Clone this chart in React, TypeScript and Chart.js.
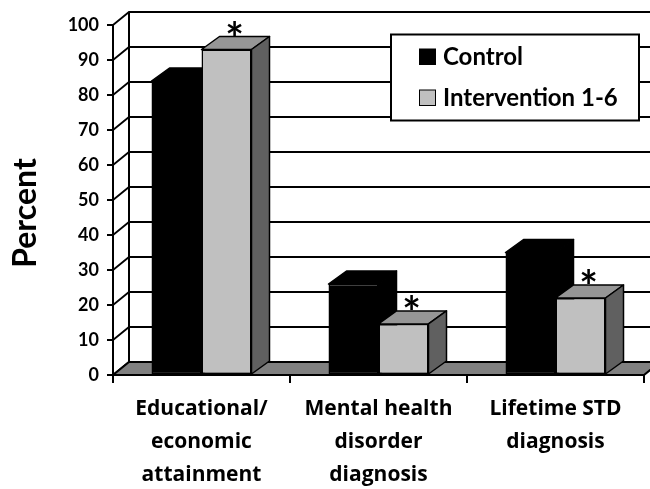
import React, { useEffect, useRef } from 'react';
import { Chart, registerables } from 'chart.js';

Chart.register(...registerables);

// ---- data ----
const categories: string[][] = [
  ['Educational/', 'economic', 'attainment'],
  ['Mental health', 'disorder', 'diagnosis'],
  ['Lifetime STD', 'diagnosis'],
];
const seriesNames = ['Control', 'Intervention 1-6'];
const controlValues = [84, 26, 35];
const interventionValues = [93, 14.6, 22];
const interventionMarks = ['*', '*', '*'];
const yAxisTitle = 'Percent';
const yMin = 0;
const yMax = 100;
const yStep = 10;

// ---- style ----
const FONT = 'Lato';
const LABEL_FONT = '"Open Sans"';
const WALL_DX = 16;
const WALL_DY = 13;
const BAR_DX = 18;
const BAR_DY = 13;
const COLORS = {
  control: '#000000',
  intervention: '#c0c0c0',
  interventionTop: '#969696',
  interventionSide: '#606060',
  floor: '#808080',
};

const threeDPlugin = {
  id: 'threeD',
  beforeDraw(chart: any) {
    const { ctx, chartArea, scales } = chart;
    const { left, right, bottom } = chartArea;
    const y = scales.y;
    const W = chart.width;
    ctx.save();
    ctx.strokeStyle = '#000';
    ctx.lineWidth = 1.8;
    // side wall + back wall gridlines
    for (let v = yMin; v <= yMax; v += yStep) {
      const py = y.getPixelForValue(v);
      ctx.beginPath();
      ctx.moveTo(left, py);
      ctx.lineTo(left + WALL_DX, py - WALL_DY);
      ctx.lineTo(W, py - WALL_DY);
      ctx.stroke();
    }
    // back wall vertical edge
    const topPx = y.getPixelForValue(yMax);
    ctx.lineWidth = 2;
    ctx.beginPath();
    ctx.moveTo(left + WALL_DX, topPx - WALL_DY);
    ctx.lineTo(left + WALL_DX, bottom - WALL_DY);
    ctx.stroke();
    // floor
    ctx.beginPath();
    ctx.moveTo(left, bottom);
    ctx.lineTo(right, bottom);
    ctx.lineTo(right + WALL_DX, bottom - WALL_DY);
    ctx.lineTo(left + WALL_DX, bottom - WALL_DY);
    ctx.closePath();
    ctx.fillStyle = COLORS.floor;
    ctx.fill();
    ctx.lineWidth = 2;
    ctx.stroke();
    ctx.restore();
  },
  beforeDatasetsDraw(chart: any) {
    const { ctx } = chart;
    ctx.save();
    ctx.strokeStyle = '#000';
    ctx.lineWidth = 1.5;
    ctx.lineJoin = 'round';
    chart.data.datasets.forEach((ds: any, di: number) => {
      const meta = chart.getDatasetMeta(di);
      meta.data.forEach((el: any) => {
        const { x, y, base, width } = el.getProps(['x', 'y', 'base', 'width'], true);
        const l = x - width / 2;
        const r = x + width / 2;
        // top face
        ctx.beginPath();
        ctx.moveTo(l, y);
        ctx.lineTo(r, y);
        ctx.lineTo(r + BAR_DX, y - BAR_DY);
        ctx.lineTo(l + BAR_DX, y - BAR_DY);
        ctx.closePath();
        ctx.fillStyle = ds.topColor;
        ctx.fill();
        ctx.stroke();
        // side face
        ctx.beginPath();
        ctx.moveTo(r, y);
        ctx.lineTo(r + BAR_DX, y - BAR_DY);
        ctx.lineTo(r + BAR_DX, base - BAR_DY);
        ctx.lineTo(r, base);
        ctx.closePath();
        ctx.fillStyle = ds.sideColor;
        ctx.fill();
        ctx.stroke();
      });
    });
    ctx.restore();
  },
  afterDraw(chart: any) {
    const { ctx, chartArea } = chart;
    ctx.save();
    // significance marks
    const meta = chart.getDatasetMeta(1);
    ctx.fillStyle = '#000';
    ctx.font = `bold 44px ${FONT}`;
    ctx.textAlign = 'center';
    ctx.textBaseline = 'alphabetic';
    meta.data.forEach((el: any, i: number) => {
      const mark = interventionMarks[i];
      if (!mark) return;
      const { x, y } = el.getProps(['x', 'y'], true);
      const m = ctx.measureText(mark);
      const targetBottom = y - BAR_DY - 1;
      ctx.fillText(mark, x + BAR_DX / 2 - 1, targetBottom - m.actualBoundingBoxDescent);
    });
    // y axis title
    ctx.save();
    ctx.translate(36, (chartArea.top + chartArea.bottom) / 2 + 13);
    ctx.rotate(-Math.PI / 2);
    ctx.font = `bold 32px ${FONT}`;
    ctx.textAlign = 'center';
    ctx.textBaseline = 'alphabetic';
    ctx.fillText(yAxisTitle, 0, 0);
    ctx.restore();
    // legend
    const bx = 391, by = 34.5, bw = 248, bh = 86;
    ctx.fillStyle = '#fff';
    ctx.fillRect(bx, by, bw, bh);
    ctx.strokeStyle = '#000';
    ctx.lineWidth = 2;
    ctx.strokeRect(bx, by, bw, bh);
    const baselines = [65, 106];
    chart.data.datasets.forEach((ds: any, i: number) => {
      const bl = baselines[i];
      ctx.fillStyle = ds.backgroundColor;
      ctx.fillRect(419.5, bl - 16, 16, 15.5);
      ctx.lineWidth = 1;
      ctx.strokeRect(419.5, bl - 16, 16, 15.5);
      ctx.fillStyle = '#000';
      ctx.font = `bold 24px ${FONT}`;
      ctx.textAlign = 'left';
      ctx.textBaseline = 'alphabetic';
      ctx.fillText(ds.label, 443, bl);
    });
    ctx.restore();
  },
};

export default function App() {
  const ref = useRef<HTMLCanvasElement | null>(null);
  useEffect(() => {
    if (!ref.current) return;
    const chart = new Chart(ref.current, {
      type: 'bar',
      data: {
        labels: categories as any,
        datasets: [
          {
            label: seriesNames[0],
            data: controlValues,
            backgroundColor: COLORS.control,
            borderColor: '#000',
            borderWidth: 1.5,
            borderSkipped: false,
            topColor: COLORS.control,
            sideColor: COLORS.control,
          } as any,
          {
            label: seriesNames[1],
            data: interventionValues,
            backgroundColor: COLORS.intervention,
            borderColor: '#000',
            borderWidth: 1.5,
            borderSkipped: false,
            topColor: COLORS.interventionTop,
            sideColor: COLORS.interventionSide,
          } as any,
        ],
      },
      options: {
        responsive: false,
        animation: false,
        devicePixelRatio: 1,
        layout: { padding: { top: 25, right: 6, left: 0, bottom: 0 } },
        plugins: { legend: { display: false }, tooltip: { enabled: false } },
        datasets: { bar: { categoryPercentage: 0.565, barPercentage: 1.0 } },
        scales: {
          x: {
            type: 'category',
            offset: true,
            grid: {
              offset: true,
              drawOnChartArea: false,
              drawTicks: true,
              tickLength: 8,
              color: '#000',
              lineWidth: 2,
            },
            border: { display: true, color: '#000', width: 2 },
            ticks: {
              color: '#000',
              padding: 10,
              maxRotation: 0,
              autoSkip: false,
              font: { family: LABEL_FONT, weight: 'bold', size: 21, lineHeight: 1.57 },
            },
            afterFit: (s: any) => {
              s.height = 114;
            },
          },
          y: {
            min: yMin,
            max: yMax,
            ticks: {
              stepSize: yStep,
              color: '#000',
              padding: 8,
              font: { family: FONT, weight: 'bold', size: 18 },
            },
            grid: {
              drawOnChartArea: false,
              drawTicks: true,
              tickLength: 6,
              color: '#000',
              lineWidth: 2,
            },
            border: { display: true, color: '#000', width: 2 },
            afterFit: (s: any) => {
              s.width = 113;
            },
          },
        },
      } as any,
      plugins: [threeDPlugin],
    });
    return () => chart.destroy();
  }, []);
  return (
    <div style={{ position: 'absolute', left: 0, top: 0, width: 650, height: 489, background: '#fff' }}>
      <canvas ref={ref} width={650} height={489} style={{ display: 'block' }} />
    </div>
  );
}
